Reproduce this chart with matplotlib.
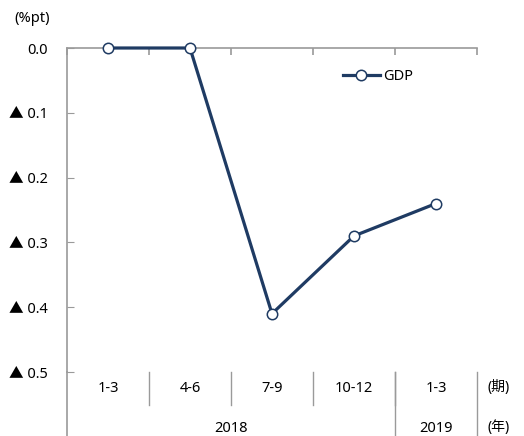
import matplotlib
matplotlib.use("Agg")
import matplotlib.pyplot as plt
import matplotlib.transforms as mtransforms

plt.rcParams['font.family'] = ['Noto Sans', 'Noto Sans CJK JP', 'DejaVu Sans']

quarters = ["1-3", "4-6", "7-9", "10-12", "1-3"]
gdp = [0.0, 0.0, -0.41, -0.29, -0.24]
years = ["2018", "2019"]
year_spans = [4, 1]
yticks = [0.0, -0.1, -0.2, -0.3, -0.4, -0.5]
ytick_labels = ["0.0", "▲ 0.1", "▲ 0.2", "▲ 0.3", "▲ 0.4", "▲ 0.5"]

navy = "#1f3b63"
grey = "#9a9a9a"

fig = plt.figure(figsize=(5.24, 4.36), dpi=100)
ax = fig.add_axes([67 / 524, 1 - 372 / 436, 410 / 524, 324 / 436])

x = list(range(len(quarters)))
ax.plot(x, gdp, color=navy, lw=2.3, marker="o", ms=7.5, mfc="white",
        mec=navy, mew=1.1, label="GDP", zorder=3, clip_on=False)

ax.set_xlim(-0.5, len(quarters) - 0.5)
ax.set_ylim(-0.5, 0.0)
ax.set_yticks(yticks)
ax.set_yticklabels(ytick_labels, fontsize=10.5)
ax.tick_params(axis="y", direction="in", length=5, color=grey, pad=14)

# category axis sits at y=0 (top), labels drawn below the plot
ax.set_xticks([i - 0.5 for i in range(len(quarters) + 1)])
ax.set_xticklabels([])
ax.xaxis.set_ticks_position("top")
ax.tick_params(axis="x", direction="in", length=5, color=grey, width=1.2)

for side in ["right", "bottom"]:
    ax.spines[side].set_visible(False)
for side in ["left", "top"]:
    ax.spines[side].set_color(grey)
    ax.spines[side].set_linewidth(1.2)

trans = mtransforms.blended_transform_factory(ax.transData, ax.transAxes)
row = 33 / 324

# quarter labels row
for i, q in enumerate(quarters):
    ax.text(i, -row / 2, q, transform=trans, ha="center", va="center", fontsize=10.5)
for i in range(1, len(quarters)):
    ax.plot([i - 0.5, i - 0.5], [0, -row], transform=trans, color=grey,
            lw=1.0, clip_on=False)

# year labels row
start = 0
for yr, span in zip(years, year_spans):
    ax.text(start + span / 2 - 0.5, -row * 1.72, yr, transform=trans,
            ha="center", va="center", fontsize=10.5)
    end = start + span
    ax.plot([end - 0.5, end - 0.5], [0, -row * 2.2], transform=trans,
            color=grey, lw=1.0, clip_on=False)
    start = end
ax.plot([-0.5, -0.5], [0, -row * 2.2], transform=trans, color=grey,
        lw=1.2, clip_on=False)

fig.text(488 / 524, 1 - 387 / 436, "(期)", fontsize=10, ha="left", va="center")
fig.text(488 / 524, 1 - 427 / 436, "(年)", fontsize=10, ha="left", va="center")
fig.text(14 / 524, 1 - 19 / 436, "(%pt)", fontsize=10.5, ha="left", va="center")

ax.legend(loc="upper left", bbox_to_anchor=(0.64, 0.975), frameon=False,
          fontsize=10.5, handlelength=2.6, handletextpad=0.2)

fig.savefig("out.png", dpi=100)
